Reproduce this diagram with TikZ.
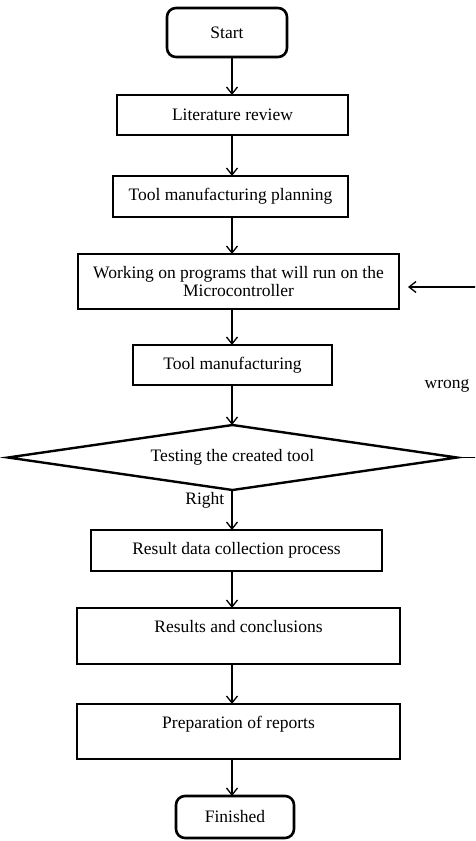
\documentclass[tikz,border=0pt]{standalone}
\usepackage{fontspec}
\setmainfont{Liberation Serif}
\usetikzlibrary{positioning,shapes.geometric,arrows.meta}

\tikzset{
  termbox/.style={draw, line width=2.6pt, rounded corners=9pt, inner sep=0pt, outer sep=0pt},
  procbox/.style={draw, line width=2.6pt, inner sep=0pt, outer sep=0pt, align=center},
  testbox/.style={draw, diamond, aspect=6.9, line width=2.4pt, inner sep=0pt, outer sep=0pt},
  arr/.style={-{Straight Barb[length=7pt,width=11pt]}, line width=1.3pt},
  lbl/.style={inner sep=0pt},
}

\begin{document}
\begin{tikzpicture}[x=1pt, y=1pt, font=\fontsize{17.5}{18.5}\selectfont]
  \useasboundingbox (0,0) rectangle (475,-841);
  \clip (0,0) rectangle (475,-841);

  \node[termbox, minimum width=120pt, minimum height=49pt] (start) at (227,-32.5) {Start};
  \node[procbox, minimum width=231pt, minimum height=40pt, below=38pt of start, xshift=5.5pt] (litrev) {Literature review};
  \node[procbox, minimum width=235pt, minimum height=41pt, below=41pt of litrev, xshift=-2pt] (plan) {Tool manufacturing planning};
  \node[procbox, minimum width=321pt, minimum height=55pt, below=37pt of plan, xshift=8pt] (work) {Working on programs that will run on the\\Microcontroller};
  \node[procbox, minimum width=199pt, minimum height=40pt, below=36pt of work, xshift=-6pt] (tool) {Tool manufacturing};
  \node[testbox, minimum width=449pt, minimum height=65pt, below=40pt of tool] (test) {Testing the created tool};
  \node[procbox, minimum width=291pt, minimum height=41pt, below=40pt of test, xshift=4pt] (result) {Result data collection process};
  \node[procbox, minimum width=323pt, minimum height=56pt, below=37pt of result, xshift=2pt] (concl) {Results and conclusions\\\mbox{}};
  \node[procbox, minimum width=323pt, minimum height=55pt, below=40pt of concl] (report) {Preparation of reports\\\mbox{}};
  \node[termbox, minimum width=118pt, minimum height=42pt, below=37pt of report, xshift=-3.5pt] (finish) {Finished};

  % main flow
  \coordinate (spine) at (232,0);
  \foreach \a/\b in {start/litrev, litrev/plan, plan/work, work/tool, tool/test, test/result, result/concl, concl/report, report/finish}
    \draw[arr] (\a.south -| spine) -- (\b.north -| spine);

  \node[lbl, below left=2pt and 8pt of test.south] (rightlbl) {Right};

  % back to the programs when the test fails
  \coordinate[right=30pt of test.east] (loopcorner);
  \draw[arr, shorten >=9pt] (test.east) -- (loopcorner) |- node[lbl, pos=0.21, left=17pt] (wronglbl) {wrong} ([yshift=-5.5pt]work.east);
\end{tikzpicture}
\end{document}
